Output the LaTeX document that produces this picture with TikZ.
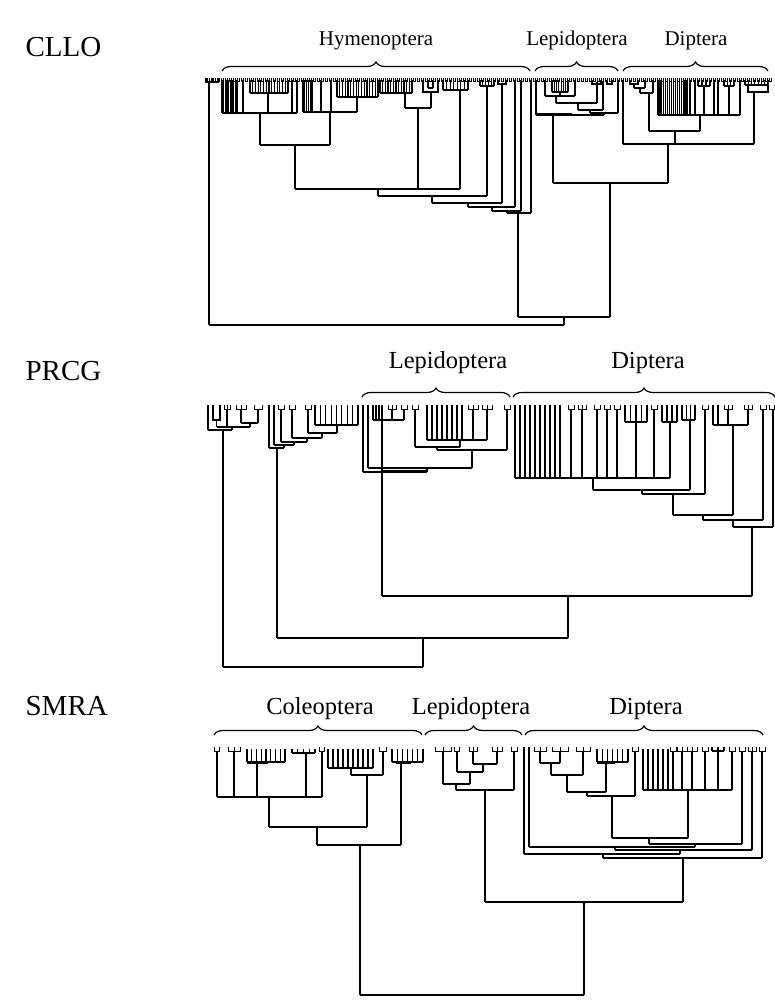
\documentclass[tikz,border=0pt]{standalone}
\usepackage{fontspec}
\setmainfont{Liberation Serif}
\usetikzlibrary{decorations.pathreplacing}
\newcommand\comb[5]{%
  \foreach \ci in {1,...,#3}{\pgfmathsetmacro\cx{#1+(#2-#1)*(\ci-1)/(#3-1)}\draw (\cx,#4) -- (\cx,#5);}
  \draw (#1,#5) -- (#2,#5);}
\newcommand\vl[3]{\draw (#1,#2) -- (#1,#3);}
\newcommand\hl[3]{\draw (#1,#3) -- (#2,#3);}
\newcommand\fk[3]{\draw[thin fork] ({#1-#3},#2) -- ({#1-#3},#2+4) -- ({#1+#3},#2+4) -- ({#1+#3},#2);}
\newcommand\pf[3]{\fk{#1}{#2}{#3}\draw[thin fork] (#1,#2) -- (#1,#2+4);}
\tikzset{
  thin fork/.style={line width=0.9pt},
  bigl/.style={anchor=base west, inner sep=0pt, font=\fontsize{29}{29}\selectfont},
  cladeA/.style={anchor=base, inner sep=0pt, font=\fontsize{21}{21}\selectfont},
  cladeB/.style={anchor=base, inner sep=0pt, font=\fontsize{24.5}{24.5}\selectfont},
  brc/.style={decorate, decoration={brace, amplitude=9pt}, line width=1.2pt},
}
\begin{document}
\begin{tikzpicture}[x=1pt, y=-1pt, line width=1.2pt, line join=miter]
\useasboundingbox[fill=white] (0,0) rectangle (775,1000);

% ================= CLLO =================
\node[bigl] (lbl1) at (25,57) {CLLO};
\node[cladeA] (hym1) at (376,46) {Hymenoptera};
\node[cladeA] (lep1) at (577,46) {Lepidoptera};
\node[cladeA] (dip1) at (696,46) {Diptera};
\draw[brc] (222,71) -- (530,71);
\draw[brc] (535,71) -- (618,71);
\draw[brc] (623,71) -- (768,71);
% leaf texture
\foreach \x in {205,209,...,769} {\draw[line width=0.8pt] (\x,78) -- (\x,81.5) -- (\x+2.5,81.5) -- (\x+2.5,78);}
% left cluster
\draw (206,78) -- (206,82) -- (218,82) -- (218,78); \vl{212}{78}{82}
\vl{209}{82}{325}
% Hymenoptera
\comb{222}{237}{10}{80}{113}
\vl{243}{80}{113}
\comb{250}{288}{15}{80}{93} \vl{268}{93}{113}
\vl{292}{80}{113} \vl{297}{80}{113}
\hl{222}{297}{113}
\vl{260}{113}{145}
\comb{303}{312}{6}{80}{112}
\vl{321}{80}{112} \vl{331}{80}{112}
\comb{337}{378}{16}{80}{97} \vl{357}{97}{112}
\hl{303}{357}{112}
\vl{330}{112}{145}
\hl{260}{330}{145}
\vl{295}{145}{189}
\comb{380}{412}{13}{80}{93} \vl{405}{93}{108}
\draw (423,80) -- (423,92) -- (438,92) -- (438,80); \vl{428}{80}{88} \vl{433}{80}{88} \hl{428}{433}{88}
\vl{431}{92}{108}
\hl{405}{431}{108} \vl{418}{108}{189}
\comb{443}{468}{8}{80}{90} \vl{460}{90}{189}
\hl{295}{460}{189}
\vl{378}{189}{196}
\comb{480}{494}{6}{80}{86} \vl{487}{86}{196}
\hl{378}{487}{196}
\vl{432}{196}{203}
\draw (498,80) -- (498,84) -- (506,84) -- (506,80); \vl{502}{84}{203}
\hl{432}{502}{203}
\vl{468}{203}{207}
\vl{515}{80}{207} \hl{468}{515}{207}
\vl{492}{207}{211}
\vl{521}{80}{211} \hl{492}{521}{211}
\vl{507}{211}{213}
\vl{531}{80}{213} \hl{507}{531}{213}
\vl{518}{213}{317}
% Lepidoptera
\vl{536}{80}{115}
\comb{552}{568}{8}{80}{92}
\vl{560}{92}{96}
\vl{545}{80}{96} \vl{575}{80}{96} \hl{545}{575}{96}
\vl{556}{96}{103}
\vl{597}{82}{103} \hl{556}{597}{103} \draw (592,80)--(592,84)--(601,84)--(601,80);
\vl{578}{103}{110}
\vl{603}{82}{110} \hl{578}{603}{110} \draw (607,80)--(607,84)--(612,84)--(612,80);
\vl{590}{110}{113}
\vl{618}{80}{113} \hl{590}{618}{113}
\vl{604}{113}{115}
\hl{536}{604}{115} \hl{536}{572}{114}
\vl{553}{115}{183}
% Diptera
\vl{623}{80}{144}
\draw (630,80) -- (630,84) -- (638,84) -- (638,80);
\vl{634}{84}{88} \vl{645}{80}{88} \hl{634}{645}{88}
\vl{640}{88}{93} \vl{653}{80}{93} \hl{640}{653}{93}
\vl{649}{93}{131}
\comb{658}{687}{16}{80}{115}
\vl{690}{80}{115} \vl{695}{80}{115}
\comb{698}{710}{4}{80}{86} \vl{704}{86}{115}
\vl{714}{80}{115} \vl{718}{80}{115}
\comb{724}{734}{4}{80}{86} \vl{729}{86}{115}
\vl{740}{80}{115}
\hl{658}{740}{115}
\vl{700}{115}{131}
\hl{649}{700}{131}
\vl{675}{131}{144}
\comb{745}{768}{8}{80}{85}
\draw (748,85) -- (748,92) -- (768,92) -- (768,85);
\vl{754}{92}{144}
\hl{623}{754}{144}
\vl{668}{144}{183}
\hl{553}{668}{183}
\vl{610}{183}{317}
% root
\hl{518}{610}{317}
\vl{564}{317}{325}
\hl{209}{564}{325}

% ================= PRCG =================
\node[bigl] (lbl2) at (25,380) {PRCG};
\node[cladeB] (lep2) at (448,368) {Lepidoptera};
\node[cladeB] (dip2) at (648,368) {Diptera};
\draw[brc] (362,397) -- (510,397);
\draw[brc] (513,397) -- (775,397);
% group 1
\vl{208}{405}{430}
\draw (213,405) -- (213,420) -- (220,420) -- (220,405); \vl{216.5}{420}{427}
\pf{227}{405}{3} \vl{227}{409}{427}
\pf{241}{405}{5} \vl{241}{409}{423}
\fk{258}{405}{4} \vl{258}{409}{423}
\hl{241}{258}{423} \vl{250}{423}{427}
\hl{216.5}{250}{427} \vl{232}{427}{430}
\hl{208}{232}{430}
\vl{223}{430}{667}
% group 2
\comb{315}{358}{9}{405}{425} \vl{337}{425}{433}
\fk{308}{405}{3} \vl{308}{409}{433}
\hl{308}{337}{433} \vl{322}{433}{438}
\fk{292}{405}{3} \vl{292}{409}{438}
\hl{292}{322}{438} \vl{307}{438}{442}
\fk{281}{405}{3} \vl{281}{409}{442}
\hl{281}{307}{442} \vl{294}{442}{445}
\vl{274}{405}{445} \hl{274}{294}{445} \vl{284}{445}{448}
\vl{269}{405}{448} \hl{269}{284}{448}
\vl{277}{448}{638}
% Lepidoptera
\vl{363}{405}{472}
\vl{368}{405}{468}
\comb{373}{382}{4}{405}{420}
\pf{392}{405}{4} \vl{392}{409}{420}
\fk{404}{405}{3} \vl{404}{409}{420}
\hl{373}{404}{420}
\fk{415}{405}{3} \vl{415}{409}{447}
\comb{427}{462}{8}{405}{440}
\pf{473}{405}{5} \vl{473}{409}{440}
\pf{487}{405}{5} \vl{487}{409}{440}
\hl{427}{487}{440}
\vl{460}{440}{447}
\hl{415}{460}{447} \vl{437}{447}{450}
\fk{507}{405}{3} \vl{507}{409}{450}
\hl{437}{507}{450} \vl{472}{450}{468}
\hl{368}{472}{468} \vl{427}{468}{472}
\hl{363}{427}{472} \hl{382}{427}{471}
\vl{382}{420}{596}
% Diptera
\comb{515}{560}{10}{405}{478}
\fk{571}{405}{3} \vl{571}{409}{478}
\pf{582}{405}{4} \vl{582}{409}{478}
\fk{597}{405}{3} \vl{597}{409}{478}
\fk{607}{405}{3} \vl{607}{409}{478}
\fk{617}{405}{3} \vl{617}{409}{478}
\comb{625}{647}{5}{405}{422} \vl{636}{422}{478}
\fk{654}{405}{3} \vl{654}{409}{478}
\comb{662}{677}{4}{405}{422} \vl{670}{422}{478}
\hl{515}{670}{478}
\vl{593}{478}{490}
\comb{682}{695}{4}{405}{420} \vl{690}{420}{490}
\hl{593}{690}{490}
\vl{642}{490}{494}
\fk{705}{405}{3} \vl{705}{409}{494}
\hl{642}{705}{494}
\vl{673}{494}{515}
\vl{713}{405}{425} \vl{718}{405}{425}
\pf{728}{405}{4} \vl{728}{409}{425}
\pf{748}{405}{4} \vl{748}{409}{425}
\hl{713}{748}{425}
\vl{733}{425}{515}
\hl{673}{733}{515}
\vl{703}{515}{520}
\fk{763}{405}{3} \vl{763}{409}{520}
\hl{703}{763}{520}
\vl{733}{520}{527}
\fk{772}{405}{2.5} \vl{773}{409}{527}
\hl{733}{773}{527}
\vl{752}{527}{596}
\hl{382}{752}{596}
\vl{568}{596}{638}
\hl{277}{568}{638}
\vl{423}{638}{667}
\hl{223}{423}{667}

% ================= SMRA =================
\node[bigl] (lbl3) at (25,715) {SMRA};
\node[cladeB] (col3) at (320,714) {Coleoptera};
\node[cladeB] (lep3) at (471,714) {Lepidoptera};
\node[cladeB] (dip3) at (646,714) {Diptera};
\draw[brc] (214,735) -- (422,735);
\draw[brc] (425,735) -- (522,735);
\draw[brc] (525,735) -- (763,735);
% Coleoptera
\fk{217}{747}{2.5} \vl{217}{751}{797}
\pf{234}{747}{6} \vl{234}{751}{797}
\comb{247}{285}{9}{749}{762} \hl{247}{268}{763.5}
\vl{257}{762}{797}
\comb{292}{315}{5}{749}{753} \vl{306}{753}{797}
\fk{322}{747}{2.5} \vl{322}{751}{797}
\hl{217}{322}{797}
\vl{269}{797}{827}
\comb{328}{373}{10}{749}{768} \vl{351}{768}{775}
\fk{383}{747}{3.5} \vl{383}{751}{775}
\hl{351}{383}{775}
\vl{367}{775}{827}
\hl{269}{367}{827}
\vl{317}{827}{845}
\comb{392}{423}{7}{749}{762} \hl{396}{411}{763.5}
\vl{401}{762}{845}
\hl{317}{401}{845}
\vl{360}{845}{995}
% Lepidoptera
\pf{443}{747}{8} \vl{443}{751}{784}
\fk{457}{747}{2.5} \vl{457}{751}{772}
\pf{473}{747}{4} \vl{473}{751}{764}
\pf{497}{747}{5} \vl{497}{751}{764}
\hl{473}{497}{764} \vl{483}{764}{772}
\hl{457}{483}{772} \vl{470}{772}{784}
\hl{443}{470}{784} \vl{456}{784}{790}
\fk{514}{747}{3} \vl{514}{751}{790}
\hl{456}{514}{790}
\vl{485}{790}{902}
% Diptera
\vl{524}{747}{854}
\vl{529}{747}{847}
\pf{540}{747}{6} \vl{540}{751}{763}
\pf{560}{747}{8} \vl{560}{751}{763}
\hl{540}{560}{763} \vl{551}{763}{775}
\pf{583}{747}{7} \vl{583}{751}{775}
\hl{551}{583}{775} \vl{567}{775}{792}
\comb{597}{628}{7}{749}{762} \hl{597}{615}{763.5}
\vl{606}{762}{792}
\hl{567}{606}{792} \vl{587}{792}{796}
\fk{635}{747}{3} \vl{635}{751}{796}
\hl{587}{635}{796} \vl{612}{796}{838}
\comb{643}{668}{6}{749}{790}
\fk{673}{747}{3} \vl{673}{751}{790}
\pf{682}{747}{5} \vl{682}{751}{790}
\pf{692}{747}{5} \vl{692}{751}{790}
\fk{705}{747}{3} \vl{705}{751}{790}
\comb{712}{724}{3}{747}{751} \vl{718}{751}{790}
\fk{732}{747}{3} \vl{732}{751}{790}
\hl{643}{732}{790}
\vl{688}{790}{838}
\hl{612}{688}{838}
\vl{649}{838}{844}
\fk{742}{747}{3} \vl{742}{751}{844}
\hl{649}{742}{844}
\vl{695}{844}{847}
\hl{529}{695}{847}
\vl{615}{847}{850}
\pf{752}{747}{4} \vl{752}{751}{850}
\hl{615}{752}{850}
\vl{680}{850}{854}
\hl{524}{680}{854}
\vl{603}{854}{858}
\fk{762}{747}{3} \vl{762}{751}{858}
\hl{603}{762}{858}
\vl{683}{858}{902}
\hl{485}{683}{902}
\vl{584}{902}{995}
\hl{360}{584}{995}
\end{tikzpicture}
\end{document}
